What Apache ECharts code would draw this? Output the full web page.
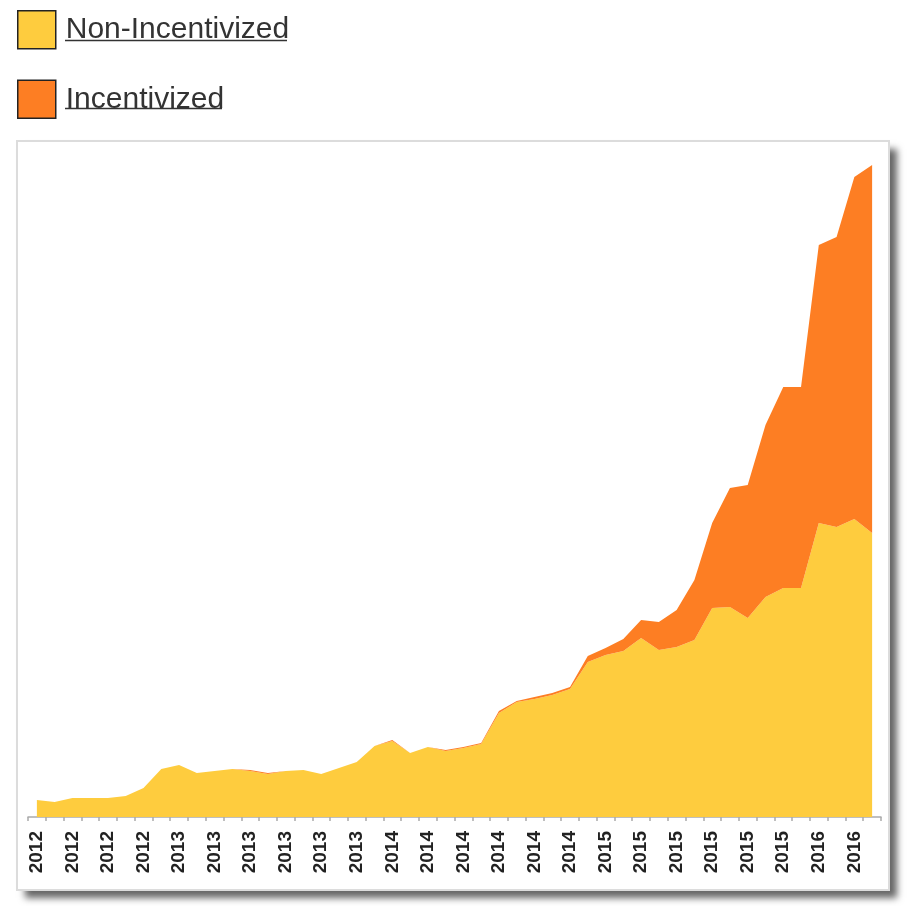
<!DOCTYPE html>
<html>
<head>
<meta charset="utf-8">
<script src="https://cdn.jsdelivr.net/npm/echarts@6/dist/echarts.min.js"></script>
<style>
html,body{margin:0;padding:0;background:#fff;}
#chart{width:916px;height:906px;}
</style>
</head>
<body>
<div id="chart"></div>
<script>
var months = ["2012-05","2012-06","2012-07","2012-08","2012-09","2012-10","2012-11","2012-12",
  "2013-01","2013-02","2013-03","2013-04","2013-05","2013-06","2013-07","2013-08","2013-09","2013-10","2013-11","2013-12",
  "2014-01","2014-02","2014-03","2014-04","2014-05","2014-06","2014-07","2014-08","2014-09","2014-10","2014-11","2014-12",
  "2015-01","2015-02","2015-03","2015-04","2015-05","2015-06","2015-07","2015-08","2015-09","2015-10","2015-11","2015-12",
  "2016-01","2016-02","2016-03","2016-04"];
var seriesNames = ["Non-Incentivized", "Incentivized"];
var nonIncentivized = [17,15,19,19,19,21,29,48,52,44,46,48,46,43,46,47,43,49,55,71,76,64,70,66,69,73,104,115,118,122,128,155,162,166,179,167,170,177,209,210,199,220,229,229,294,290,298,284];
var incentivized = [0,0,0,0,0,0,0,0,0,0,0,0,1,1,0,0,0,0,0,0,1,0,0,1,1,1,2,1,2,2,2,6,7,12,18,28,37,60,85,119,133,172,201,201,278,290,342,368];
var colors = ["#FECC3E", "#FD7E23"];

var chart = echarts.init(document.getElementById('chart'), null, {renderer: 'canvas'});
var font = "'Liberation Sans', Arial, sans-serif";
chart.setOption({
  animation: false,
  color: colors,
  legend: {
    orient: 'vertical',
    left: 17, top: 10, padding: 0,
    itemWidth: 38, itemHeight: 38, itemGap: 30,
    selectedMode: false,
    icon: 'rect',
    itemStyle: {borderColor: '#222', borderWidth: 1.5},
    textStyle: {fontSize: 30, color: '#333', fontFamily: font, padding: [0,0,4,5]},
    data: seriesNames
  },
  graphic: [
    {type: 'rect', z: -10, shape: {x: 17, y: 141, width: 872, height: 749},
     style: {fill: '#fff', shadowBlur: 7, shadowOffsetX: 8, shadowOffsetY: 8, shadowColor: 'rgba(0,0,0,0.6)'}},
    {type: 'rect', z: -9, shape: {x: 17, y: 141, width: 872, height: 749},
     style: {fill: '#fff', stroke: '#dcdcdc', lineWidth: 2}},
    {type: 'line', shape: {x1: 65, y1: 40.5, x2: 287, y2: 40.5}, style: {stroke: '#333', lineWidth: 1.5}},
    {type: 'line', shape: {x1: 65, y1: 108.5, x2: 222, y2: 108.5}, style: {stroke: '#333', lineWidth: 1.5}}
  ],
  grid: {left: 28, right: 35, top: 157, bottom: 89},
  xAxis: {
    type: 'category',
    boundaryGap: true,
    data: months,
    axisLine: {lineStyle: {color: '#aaa', width: 1.5}},
    axisTick: {show: true, interval: 0, length: 4, lineStyle: {color: '#aaa', width: 1.5}},
    axisLabel: {
      interval: 1, rotate: 90, margin: 14,
      fontSize: 19, fontWeight: 'bold', color: '#222', fontFamily: font,
      formatter: function (v) { return v.slice(0, 4); }
    }
  },
  yAxis: {type: 'value', min: 0, max: 660, show: false, splitLine: {show: false}},
  series: [
    {name: seriesNames[0], type: 'line', stack: 'total', data: nonIncentivized,
     showSymbol: false, symbol: 'none', lineStyle: {width: 0}, areaStyle: {color: colors[0], opacity: 1}},
    {name: seriesNames[1], type: 'line', stack: 'total', data: incentivized,
     showSymbol: false, symbol: 'none', lineStyle: {width: 0}, areaStyle: {color: colors[1], opacity: 1}}
  ]
});
</script>
</body>
</html>
